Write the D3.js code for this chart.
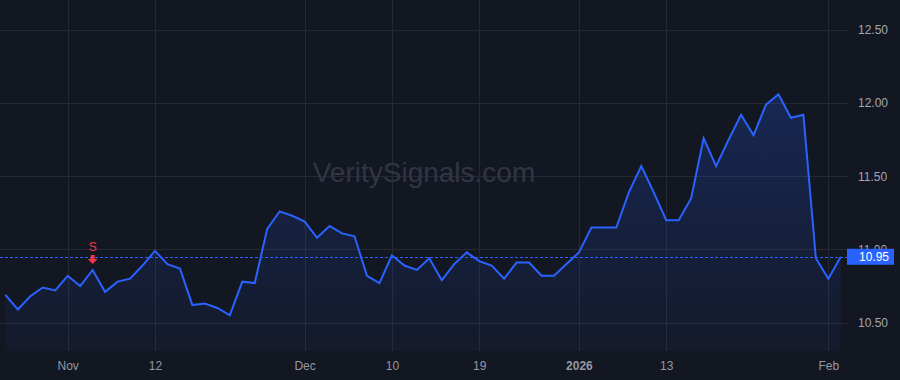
<!DOCTYPE html>
<html>
<head>
<meta charset="utf-8">
<script src="https://cdn.jsdelivr.net/npm/d3@7"></script>
<style>
  html, body { margin: 0; padding: 0; background: #131722; }
  svg { display: block; }
  text { font-family: "Liberation Sans", Arial, sans-serif; }
</style>
</head>
<body>
<svg id="chart" width="900" height="380"></svg>
<script>
// ---- data ----
const dates = [
  "2025-10-27","2025-10-28","2025-10-29","2025-10-30","2025-10-31",
  "2025-11-03","2025-11-04","2025-11-05","2025-11-06","2025-11-07",
  "2025-11-10","2025-11-11","2025-11-12","2025-11-13","2025-11-14",
  "2025-11-17","2025-11-18","2025-11-19","2025-11-20","2025-11-21",
  "2025-11-24","2025-11-25","2025-11-26","2025-11-28",
  "2025-12-01","2025-12-02","2025-12-03","2025-12-04","2025-12-05",
  "2025-12-08","2025-12-09","2025-12-10","2025-12-11","2025-12-12",
  "2025-12-15","2025-12-16","2025-12-17","2025-12-18","2025-12-19",
  "2025-12-22","2025-12-23","2025-12-24","2025-12-26",
  "2025-12-29","2025-12-30","2025-12-31","2026-01-02",
  "2026-01-05","2026-01-06","2026-01-07","2026-01-08","2026-01-09",
  "2026-01-12","2026-01-13","2026-01-14","2026-01-15","2026-01-16",
  "2026-01-20","2026-01-21","2026-01-22","2026-01-23",
  "2026-01-26","2026-01-27","2026-01-28","2026-01-29","2026-01-30",
  "2026-02-02","2026-02-03"
];
const closes = [
  10.69, 10.59, 10.68, 10.74, 10.72,
  10.82, 10.75, 10.86, 10.71, 10.78,
  10.80, 10.89, 10.99, 10.90, 10.87,
  10.62, 10.63, 10.60, 10.55, 10.78,
  10.77, 11.14, 11.26, 11.23,
  11.19, 11.08, 11.16, 11.11, 11.09,
  10.82, 10.77, 10.96, 10.89, 10.86,
  10.94, 10.79, 10.90, 10.98, 10.92,
  10.89, 10.80, 10.91, 10.91,
  10.82, 10.82, 10.90, 10.98,
  11.15, 11.15, 11.15, 11.39, 11.57,
  11.39, 11.20, 11.20, 11.35, 11.76,
  11.57, 11.75, 11.92, 11.78,
  11.99, 12.06, 11.90, 11.92, 10.94,
  10.80, 10.95
];
const xTickDates = ["2025-11-03","2025-11-12","2025-12-01","2025-12-10","2025-12-19","2026-01-02","2026-01-13","2026-02-02"];
const xTickLabels = ["Nov","12","Dec","10","19","2026","13","Feb"];
const yTicks = [10.5, 11.0, 11.5, 12.0, 12.5];
const lastPrice = 10.95;
const signalDates = ["2025-11-05"];
const signalLabels = ["S"];
const watermark = "VeritySignals.com";

// ---- layout ----
const W = 900, H = 380;
const plotR = 848, plotB = 351;
const svg = d3.select("#chart");
const data = dates.map((d, i) => ({ i, date: d, v: closes[i] }));
const idx = d => dates.indexOf(d);

const x = d3.scaleLinear().domain([0, dates.length - 1]).range([5.35, 840.8]);
const y = d3.scaleLinear().domain([10.5, 12.5]).range([322.6, 30]);

svg.append("rect").attr("width", W).attr("height", H).attr("fill", "#131722");

// gridlines
const grid = svg.append("g");
grid.selectAll("line.h").data(yTicks).join("line")
  .attr("x1", 0).attr("x2", plotR)
  .attr("y1", d => Math.round(y(d)) + 0.5).attr("y2", d => Math.round(y(d)) + 0.5)
  .attr("stroke", "#252934").attr("stroke-width", 1);
grid.selectAll("line.v").data(xTickDates).join("line")
  .attr("y1", 0).attr("y2", plotB)
  .attr("x1", d => Math.round(x(idx(d))) + 0.5).attr("x2", d => Math.round(x(idx(d))) + 0.5)
  .attr("stroke", "#252934").attr("stroke-width", 1);

// watermark
svg.append("text").attr("x", 424).attr("y", 182).attr("text-anchor", "middle")
  .attr("font-size", 28).attr("fill", "#363a47").attr("fill-opacity", 0.9)
  .text(watermark);

// area gradient
const defs = svg.append("defs");
const grad = defs.append("linearGradient").attr("id", "ag")
  .attr("gradientUnits", "userSpaceOnUse")
  .attr("x1", 0).attr("y1", y(d3.max(closes))).attr("x2", 0).attr("y2", plotB);
grad.append("stop").attr("offset", 0).attr("stop-color", "#2962ff").attr("stop-opacity", 0.22);
grad.append("stop").attr("offset", 1).attr("stop-color", "#2962ff").attr("stop-opacity", 0.04);

const area = d3.area().x(d => x(d.i)).y0(plotB).y1(d => y(d.v));
svg.append("path").datum(data).attr("d", area).attr("fill", "url(#ag)");

// last price dashed line
svg.append("line").attr("x1", 0).attr("x2", plotR)
  .attr("y1", Math.round(y(lastPrice)) + 0.5).attr("y2", Math.round(y(lastPrice)) + 0.5)
  .attr("stroke", "#2962ff").attr("stroke-width", 1).attr("stroke-dasharray", "3,2");

// line
const line = d3.line().x(d => x(d.i)).y(d => y(d.v));
svg.append("path").datum(data).attr("d", line)
  .attr("fill", "none").attr("stroke", "#2962ff").attr("stroke-width", 2)
  .attr("stroke-linejoin", "miter");

// signal markers
signalDates.forEach((sd, k) => {
  const i = idx(sd);
  const cx = x(i), cy = y(closes[i]);
  const g = svg.append("g").attr("fill", "#f23645");
  g.append("text").attr("x", cx).attr("y", cy - 19).attr("text-anchor", "middle")
    .attr("font-size", 12).text(signalLabels[k]);
  const p = d3.path();
  const t = cy - 15;
  p.moveTo(cx - 2, t); p.lineTo(cx + 2, t); p.lineTo(cx + 2, t + 4);
  p.lineTo(cx + 5, t + 4); p.lineTo(cx, t + 9); p.lineTo(cx - 5, t + 4);
  p.lineTo(cx - 2, t + 4); p.closePath();
  g.append("path").attr("d", p.toString());
});

// y axis
const yAxis = d3.axisRight(y).tickValues(yTicks).tickFormat(d3.format(".2f")).tickSize(0).tickPadding(0);
const ya = svg.append("g").attr("transform", `translate(858,0)`).call(yAxis);
ya.select(".domain").remove();
ya.selectAll("text").attr("font-size", 12).attr("fill", "#a3a6af")
  .attr("font-family", "'Liberation Sans', Arial, sans-serif");

// x axis
const xAxis = d3.axisBottom(x).tickValues(xTickDates.map(idx))
  .tickFormat((d, k) => xTickLabels[k]).tickSize(0).tickPadding(0);
const xa = svg.append("g").attr("transform", `translate(0,361)`).call(xAxis);
xa.select(".domain").remove();
xa.selectAll("text").attr("font-size", 12).attr("fill", "#9598a1")
  .attr("font-family", "'Liberation Sans', Arial, sans-serif")
  .attr("font-weight", (d, k) => xTickLabels[k] === "2026" ? "bold" : "normal");

// last price label (drawn over the 11.00 tick, as in the reference)
const ly = y(lastPrice);
svg.append("rect").attr("x", 847).attr("y", ly - 8).attr("width", 47).attr("height", 16)
  .attr("fill", "#2962ff");
svg.append("text").attr("x", 859).attr("y", ly + 4.5).attr("font-size", 12)
  .attr("fill", "#ffffff").text(lastPrice.toFixed(2));
</script>
</body>
</html>
